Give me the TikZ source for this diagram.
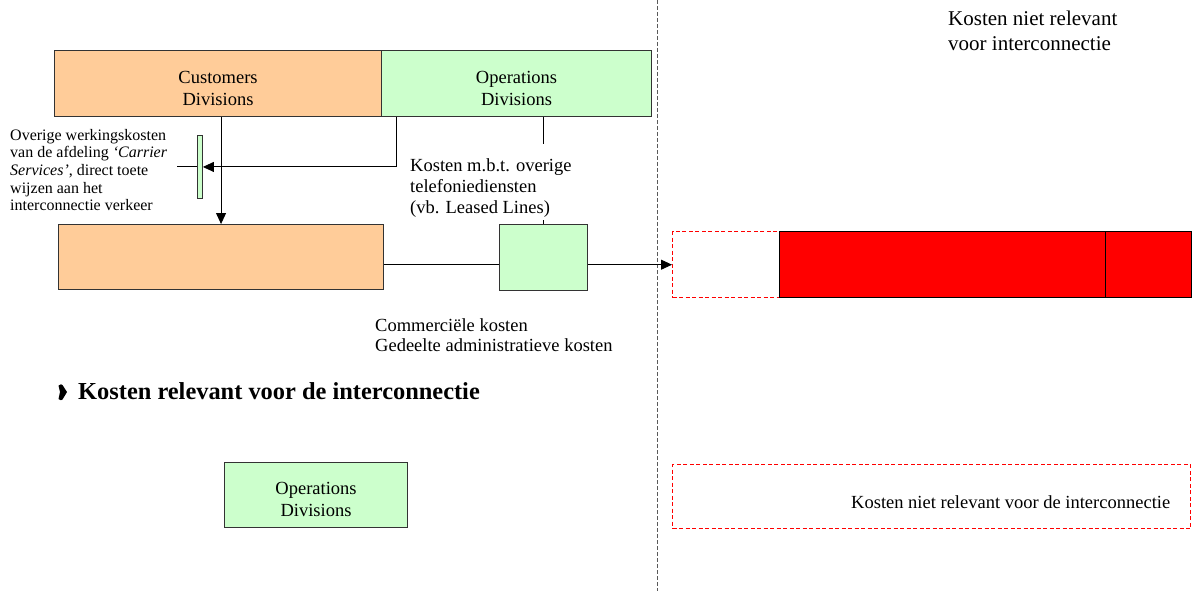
\documentclass[tikz,border=0pt]{standalone}
\usepackage{fontspec}
\setmainfont{Liberation Serif}
\usetikzlibrary{arrows.meta,calc}
\definecolor{peach}{HTML}{FFCC99}
\definecolor{mint}{HTML}{CCFFCC}
\definecolor{edge}{HTML}{333333}
\begin{document}
\begin{tikzpicture}[x=1pt,y=-1pt,
  box/.style={draw=edge,line width=1.1pt,inner sep=0pt,anchor=north west},
  boxtext/.style={label={[yshift=-4.5pt,align=center,inner sep=0pt,font=\fontsize{18.5}{22}\selectfont]center:#1}},
  conn/.style={line width=0.9pt,draw=black},
  arr/.style={conn,-{Triangle[length=11pt,width=10pt]}},
  reddash/.style={draw=red,line width=1.4pt,dash pattern=on 4pt off 2.5pt},
  divider/.style={draw=black!65,line width=0.7pt,dash pattern=on 4pt off 2pt},
  lbl/.style={inner sep=0pt,anchor=base west,align=left},
  normal/.style={font=\fontsize{18.5}{21.5}\selectfont}]
\useasboundingbox (0,0) rectangle (1192,591);
\draw[divider] (657,0) -- (657,591);
% top boxes
\node[box,fill=peach,minimum width=327pt,minimum height=66pt,boxtext={Customers\\Divisions}] (cust) at (54,50) {};
\node[box,fill=mint,minimum width=270pt,minimum height=66pt,boxtext={Operations\\Divisions}] (ops) at (381,50) {};
% thin bar
\node[box,fill=mint,line width=0.9pt,minimum width=5pt,minimum height=63pt] (bar) at (197,135) {};
% middle row
\node[box,fill=peach,minimum width=325pt,minimum height=65pt] (ob) at (58,224) {};
\node[box,fill=mint,minimum width=88pt,minimum height=66pt] (gb) at (499,224) {};
\node[box,reddash,minimum width=107pt,minimum height=66pt] (rd) at (672,231) {};
\node[box,draw=black,fill=red,minimum width=326pt,minimum height=66pt] (r1) at (779,231) {};
\node[box,draw=black,fill=red,minimum width=86pt,minimum height=66pt] (r2) at (1105,231) {};
% bottom
\node[box,fill=mint,minimum width=183pt,minimum height=65pt,boxtext={Operations\\Divisions}] (ops2) at (224,462) {};
\node[box,reddash,minimum width=518pt,minimum height=64pt] (rdl) at (672,464) {};
% connectors
\draw[arr] (cust.south -| ob.north) -- (ob.north);
\draw[arr] ([xshift=15pt]ops.south west) |- (bar.east);
\draw[conn] (bar.west) -- ++(-20,0);
\draw[conn] ([xshift=162pt]ops.south west) -- ++(0,27);
\draw[conn] (gb.north) -- ++(0,-4);
\draw[conn] (ob.east |- rd.west) -- (gb.west |- rd.west);
\draw[arr] (gb.east |- rd.west) -- (rd.west);
% texts (base anchor = baseline of last line)
\node[lbl,font=\fontsize{21}{25}\selectfont] (nr) at (948,51) {Kosten niet relevant\\voor interconnectie};
\node[lbl,font=\fontsize{16}{17.7}\selectfont] (ow) at (10,211) {Overige werkingskosten\\van de afdeling \textit{‘Carrier}\\\textit{Services’}, direct toete\\wijzen aan het\\interconnectie verkeer};
\node[lbl,normal] (kt) at (410,214) {Kosten m.b.t. overige\\telefoniediensten\\(vb. Leased Lines)};
\node[lbl,font=\fontsize{18.5}{20}\selectfont] (ck) at (375,351) {Commerciële kosten\\Gedeelte administratieve kosten};
\node[lbl,font=\bfseries\fontsize{24.4}{28}\selectfont] (title) at (78,399) {Kosten relevant voor de interconnectie};
\node[lbl,normal] (nrl) at (851,508) {Kosten niet relevant voor de interconnectie};
% bullet
\fill (58.5,385.5) .. controls (61,384) .. (62.5,385) -- (67,392) -- (62.5,399.5) .. controls (61,400.5) .. (58.5,399) -- (60,392) -- cycle;
\end{tikzpicture}
\end{document}
